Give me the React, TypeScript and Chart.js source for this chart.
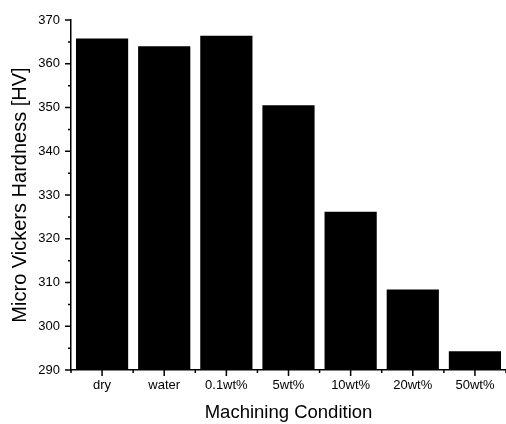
import React, { useEffect, useRef } from "react";
import { Chart, registerables } from "chart.js";

Chart.register(...registerables);

const categories = ["dry", "water", "0.1wt%", "5wt%", "10wt%", "20wt%", "50wt%"];
const hardness = [365.8, 364.0, 366.4, 350.5, 326.2, 308.4, 294.3];
const yMin = 290;
const yMax = 370;
const yStep = 10;
const yMinorStep = 5;

const FONT = "'Liberation Sans', Arial, sans-serif";

const tickPlugin = {
  id: "customTicks",
  afterDraw(chart: any) {
    const ctx = chart.ctx;
    const x = chart.scales.x;
    const y = chart.scales.y;
    const area = chart.chartArea;
    ctx.save();
    ctx.strokeStyle = "#000";
    ctx.lineWidth = 1.5;
    ctx.beginPath();
    for (let v = yMin; v <= yMax; v += yMinorStep) {
      const py = y.getPixelForValue(v);
      const len = (v - yMin) % yStep === 0 ? 6 : 3;
      ctx.moveTo(area.left, py);
      ctx.lineTo(area.left - len, py);
    }
    for (let i = 0; i < categories.length; i++) {
      const px = x.getPixelForValue(i);
      ctx.moveTo(px, area.bottom);
      ctx.lineTo(px, area.bottom + 6);
    }
    for (let i = 0; i <= categories.length; i++) {
      const px = x.getPixelForValue(i - 0.5);
      ctx.moveTo(px, area.bottom);
      ctx.lineTo(px, area.bottom + 3);
    }
    ctx.stroke();
    ctx.restore();
  },
};

export default function App() {
  const ref = useRef<HTMLCanvasElement | null>(null);
  useEffect(() => {
    document.body.style.margin = "0";
    const chart = new Chart(ref.current as HTMLCanvasElement, {
      type: "bar",
      data: {
        labels: categories,
        datasets: [
          {
            data: hardness,
            backgroundColor: "#000",
            borderWidth: 0,
            barPercentage: 0.84,
            categoryPercentage: 1,
          },
        ],
      },
      options: {
        animation: false,
        responsive: false,
        layout: { padding: { top: 20, right: 0, left: 0, bottom: 0 } },
        plugins: { legend: { display: false }, tooltip: { enabled: false } },
        scales: {
          x: {
            grid: { display: false, drawTicks: false },
            border: { display: true, color: "#000", width: 1.5 },
            ticks: { color: "#000", font: { family: FONT, size: 13 }, padding: 8, maxRotation: 0 },
            title: {
              display: true,
              text: "Machining Condition",
              color: "#000",
              font: { family: FONT, size: 18.5 },
              padding: { top: 0, bottom: 0 },
            },
            afterFit(scale: any) {
              scale.height = 54;
            },
          },
          y: {
            min: yMin,
            max: yMax,
            grid: { display: false, drawTicks: false },
            border: { display: true, color: "#000", width: 1.5 },
            ticks: { stepSize: yStep, color: "#000", font: { family: FONT, size: 13 }, padding: 11 },
            title: {
              display: true,
              text: "Micro Vickers Hardness [HV]",
              color: "#000",
              font: { family: FONT, size: 20 },
              padding: { top: 8, bottom: 0 },
            },
            afterFit(scale: any) {
              scale.width = 71;
            },
          },
        },
      },
      plugins: [tickPlugin],
    });
    return () => chart.destroy();
  }, []);
  return <canvas ref={ref} width={506} height={424} style={{ display: "block" }} />;
}
